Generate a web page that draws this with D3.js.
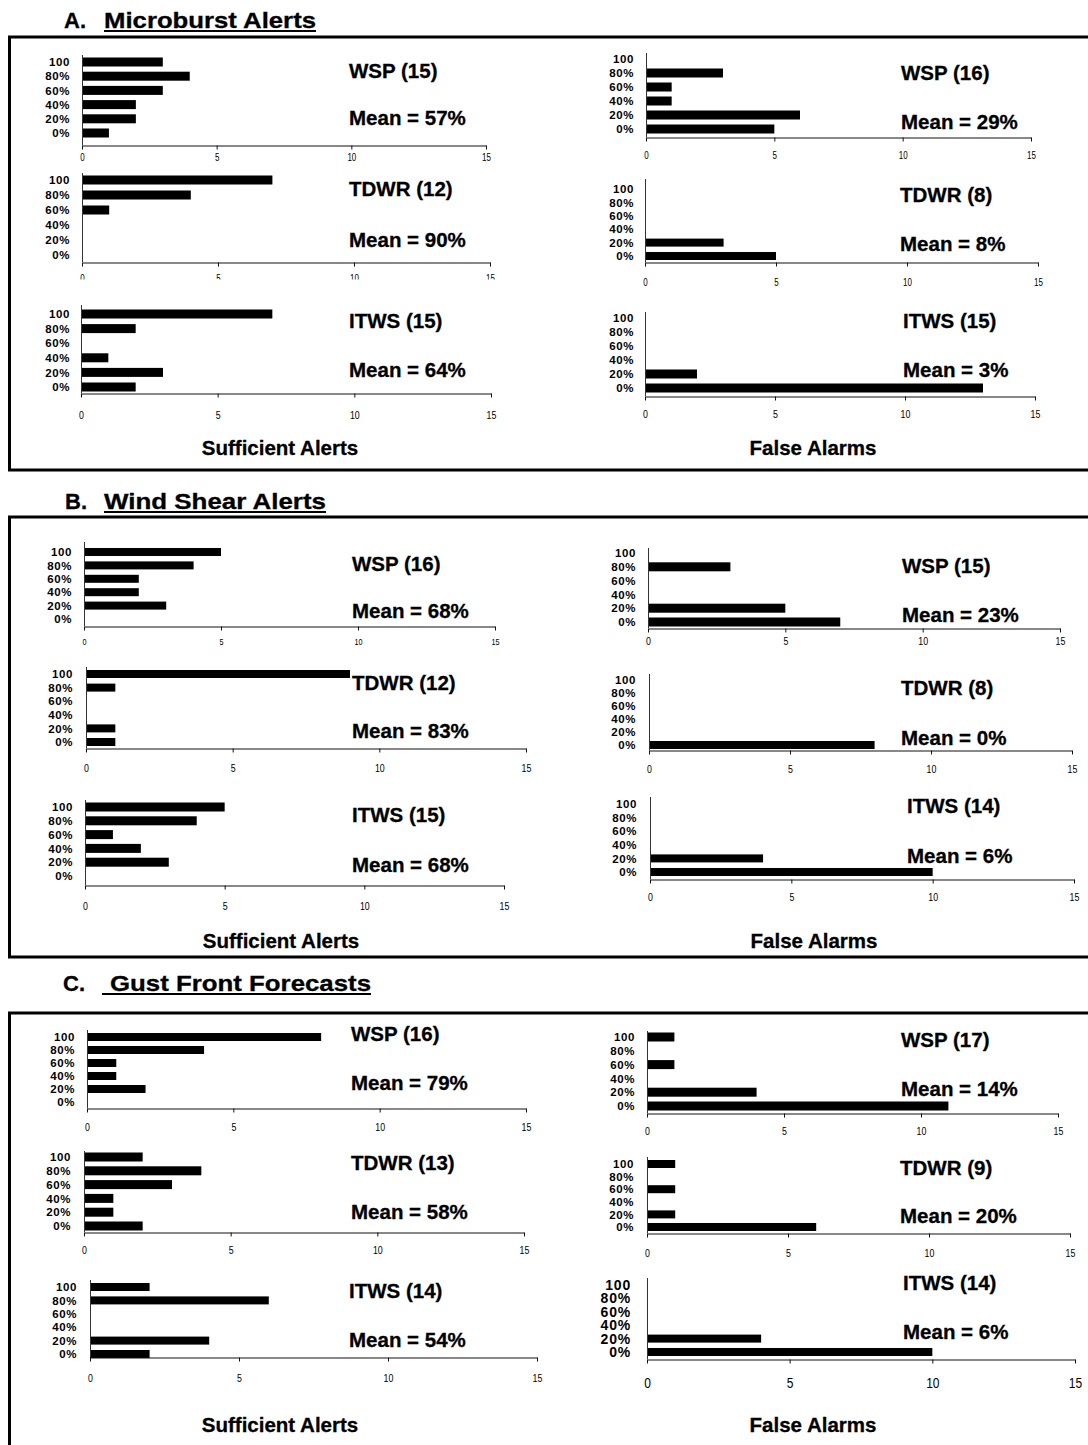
<!DOCTYPE html>
<html>
<head>
<meta charset="utf-8">
<script src="https://cdn.jsdelivr.net/npm/d3@7"></script>
<style>
  html, body { margin: 0; padding: 0; background: #fff; }
  svg { display: block; font-family: "Liberation Sans", Arial, sans-serif; }
</style>
</head>
<body>
<script>
// ---------------- DATA ----------------
const categories = ["100", "80%", "60%", "40%", "20%", "0%"];
const xTickValues = [0, 5, 10, 15];

const sectionLetters = ["A.", "B.", "C."];
const sectionNames = ["Microburst Alerts", "Wind Shear Alerts", "Gust Front Forecasts"];
const columnTitles = ["Sufficient Alerts", "False Alarms"];

// counts per category (100, 80%, 60%, 40%, 20%, 0%)
const mbSuffWSP   = [3, 4, 3, 2, 2, 1];
const mbSuffTDWR  = [7, 4, 1, 0, 0, 0];
const mbSuffITWS  = [7, 2, 0, 1, 3, 2];
const mbFalseWSP  = [0, 3, 1, 1, 6, 5];
const mbFalseTDWR = [0, 0, 0, 0, 3, 5];
const mbFalseITWS = [0, 0, 0, 0, 2, 13];

const wsSuffWSP   = [5, 4, 2, 2, 3, 0];
const wsSuffTDWR  = [9, 1, 0, 0, 1, 1];
const wsSuffITWS  = [5, 4, 1, 2, 3, 0];
const wsFalseWSP  = [0, 3, 0, 0, 5, 7];
const wsFalseTDWR = [0, 0, 0, 0, 0, 8];
const wsFalseITWS = [0, 0, 0, 0, 4, 10];

const gfSuffWSP   = [8, 4, 1, 1, 2, 0];
const gfSuffTDWR  = [2, 4, 3, 1, 1, 2];
const gfSuffITWS  = [2, 6, 0, 0, 4, 2];
const gfFalseWSP  = [1, 0, 1, 0, 4, 11];
const gfFalseTDWR = [1, 0, 1, 0, 1, 6];
const gfFalseITWS = [0, 0, 0, 0, 4, 10];

const panelSeries = [
  mbSuffWSP, mbSuffTDWR, mbSuffITWS, mbFalseWSP, mbFalseTDWR, mbFalseITWS,
  wsSuffWSP, wsSuffTDWR, wsSuffITWS, wsFalseWSP, wsFalseTDWR, wsFalseITWS,
  gfSuffWSP, gfSuffTDWR, gfSuffITWS, gfFalseWSP, gfFalseTDWR, gfFalseITWS
];
const panelNames = [
  "WSP (15)", "TDWR (12)", "ITWS (15)", "WSP (16)", "TDWR (8)", "ITWS (15)",
  "WSP (16)", "TDWR (12)", "ITWS (15)", "WSP (15)", "TDWR (8)", "ITWS (14)",
  "WSP (16)", "TDWR (13)", "ITWS (14)", "WSP (17)", "TDWR (9)", "ITWS (14)"
];
const panelMeans = [
  "Mean = 57%", "Mean = 90%", "Mean = 64%", "Mean = 29%", "Mean = 8%", "Mean = 3%",
  "Mean = 68%", "Mean = 83%", "Mean = 68%", "Mean = 23%", "Mean = 0%", "Mean = 6%",
  "Mean = 79%", "Mean = 58%", "Mean = 54%", "Mean = 14%", "Mean = 20%", "Mean = 6%"
];

// ---------------- LAYOUT ----------------
const layout = [
  {ax:82, x15:486, base:145, top:55, c100:62, c0:133, labR:70, nameX:349, nameY:78, meanY:125, tickY:157, tf:10},
  {ax:82, x15:490, base:262, top:173, c100:180, c0:255, labR:70, nameX:349, nameY:196, meanY:247, tickY:278, tf:10, clip:279},
  {ax:81, x15:491, base:393, top:305, c100:314, c0:387, labR:70, nameX:349, nameY:328, meanY:377, tickY:415, tf:11},
  {ax:646, x15:1031, base:137, top:53, c100:59, c0:129, labR:634, nameX:901, nameY:80, meanY:129, tickY:155, tf:10},
  {ax:645, x15:1038, base:262, top:179, c100:189, c0:256, labR:634, nameX:900, nameY:202, meanY:251, tickY:282, tf:10},
  {ax:645, x15:1035, base:396, top:312, c100:318, c0:388, labR:634, nameX:903, nameY:328, meanY:377, tickY:414, tf:11},

  {ax:84, x15:495, base:626, top:542, c100:552, c0:619, labR:72, nameX:352, nameY:571, meanY:618, tickY:641, tf:9},
  {ax:86, x15:526, base:748, top:667, c100:674, c0:742, labR:73, nameX:352, nameY:690, meanY:738, tickY:768, tf:11},
  {ax:85, x15:504, base:885, top:800, c100:807, c0:876, labR:73, nameX:352, nameY:822, meanY:872, tickY:906, tf:11},
  {ax:648, x15:1060, base:628, top:548, c100:553, c0:622, labR:636, nameX:902, nameY:573, meanY:622, tickY:641, tf:11},
  {ax:649, x15:1072, base:750, top:674, c100:680, c0:745, labR:636, nameX:901, nameY:695, meanY:745, tickY:769, tf:11},
  {ax:650, x15:1074, base:879, top:797, c100:804, c0:872, labR:637, nameX:907, nameY:813, meanY:863, tickY:897, tf:11},

  {ax:87, x15:526, base:1108, top:1030, c100:1037, c0:1102, labR:75, nameX:351, nameY:1041, meanY:1090, tickY:1127, tf:11},
  {ax:84, x15:524, base:1232, top:1151, c100:1157, c0:1226, labR:71, nameX:351, nameY:1170, meanY:1219, tickY:1250, tf:11},
  {ax:90, x15:537, base:1357, top:1280, c100:1287, c0:1354, labR:77, nameX:349, nameY:1298, meanY:1347, tickY:1378, tf:11},
  {ax:647, x15:1058, base:1113, top:1031, c100:1037, c0:1106, labR:635, nameX:901, nameY:1047, meanY:1096, tickY:1131, tf:11},
  {ax:647, x15:1070, base:1233, top:1157, c100:1164, c0:1227, labR:634, nameX:900, nameY:1175, meanY:1223, tickY:1253, tf:11},
  {ax:647, x15:1075, base:1359, top:1278, c100:1285, c0:1352, labR:631, nameX:903, nameY:1290, meanY:1339, tickY:1382, tf:15, big:true}
];

const titleLayout = [
  {lx:64, nx:104, w:212, y:28, ux0:104, ux1:316},
  {lx:65, nx:104, w:222, y:509, ux0:104, ux1:326},
  {lx:63, nx:110, w:261, y:991, ux0:102, ux1:371}
];
const colTitleLayout = [
  {y:455, cx:[280, 813]},
  {y:948, cx:[281, 814]},
  {y:1432, cx:[280, 813]}
];
const boxLayout = [
  {top:37, bottom:470},
  {top:517, bottom:957},
  {top:1013, bottom:null}
];

// ---------------- DRAW ----------------
const svg = d3.select("body").append("svg")
  .attr("width", 1088).attr("height", 1445);
const defs = svg.append("defs");

function boldText(sel, size) {
  return sel.attr("font-size", size).attr("font-weight", "bold")
    .attr("fill", "#000").attr("stroke", "#000").attr("stroke-width", 0.3);
}

// Boxes
boxLayout.forEach(b => {
  const bottom = b.bottom === null ? 1446 : b.bottom;
  let p = `M1090,${b.top} L9.5,${b.top} L9.5,${bottom}`;
  if (b.bottom !== null) p += ` L1090,${bottom}`;
  svg.append("path").attr("d", p).attr("fill", "none")
    .attr("stroke", "#000").attr("stroke-width", 3);
});

// Section titles
titleLayout.forEach((t, i) => {
  boldText(svg.append("text").attr("x", t.lx).attr("y", t.y), 22)
    .text(sectionLetters[i]);
  boldText(svg.append("text").attr("x", t.nx).attr("y", t.y), 22)
    .attr("textLength", t.w).attr("lengthAdjust", "spacingAndGlyphs")
    .text(sectionNames[i]);
  svg.append("line").attr("x1", t.ux0).attr("x2", t.ux1)
    .attr("y1", t.y + 3).attr("y2", t.y + 3)
    .attr("stroke", "#000").attr("stroke-width", 2);
});

// Column titles
colTitleLayout.forEach(c => {
  columnTitles.forEach((ct, j) => {
    boldText(svg.append("text").attr("x", c.cx[j]).attr("y", c.y)
      .attr("text-anchor", "middle"), 20.5)
      .text(ct);
  });
});

// Panels
layout.forEach((L, i) => {
  const values = panelSeries[i];
  const g = svg.append("g");
  const x = d3.scaleLinear().domain([0, 15]).range([L.ax, L.x15]);
  const y = d3.scalePoint().domain(categories).range([L.c100, L.c0]);
  const step = (L.c0 - L.c100) / (categories.length - 1);
  const barH = Math.round(step * 0.62);

  // bars
  g.selectAll("rect.bar").data(categories.map((c, k) => ({c, v: values[k]})))
    .enter().append("rect").attr("class", "bar")
    .attr("x", x(0))
    .attr("y", d => y(d.c) - barH / 2)
    .attr("width", d => x(d.v) - x(0))
    .attr("height", barH)
    .attr("fill", "#000");

  // y axis line
  g.append("line").attr("x1", L.ax + 0.5).attr("x2", L.ax + 0.5)
    .attr("y1", L.top).attr("y2", L.base)
    .attr("stroke", "#333").attr("stroke-width", 1);

  // category labels
  g.selectAll("text.cat").data(categories).enter().append("text")
    .attr("class", "cat")
    .attr("x", L.labR).attr("y", d => y(d))
    .attr("dy", "0.36em")
    .attr("text-anchor", "end")
    .attr("font-size", L.big ? 14 : 11.5)
    .attr("font-weight", "bold")
    .attr("letter-spacing", L.big ? 0.8 : 0.6)
    .attr("fill", "#000")
    .text(d => d);

  // x axis
  const axG = g.append("g").attr("transform", `translate(0,${L.base + 0.5})`);
  if (L.clip) {
    const id = "clip" + i;
    defs.append("clipPath").attr("id", id).append("rect")
      .attr("x", 0).attr("y", -L.base - 10).attr("width", 1088).attr("height", L.clip + 10);
    axG.attr("clip-path", `url(#${id})`);
  }
  axG.call(d3.axisBottom(x).tickValues(xTickValues).tickSize(4).tickSizeOuter(0).tickFormat(d3.format("d")));
  axG.select(".domain").attr("stroke", "#111");
  axG.selectAll(".tick line").attr("stroke", "#111");
  axG.selectAll(".tick text")
    .attr("y", L.tickY - L.base)
    .attr("dy", "0.36em")
    .attr("font-size", L.tf)
    .attr("font-family", "'Liberation Sans', Arial, sans-serif")
    .attr("fill", "#000")
    .attr("transform", "scale(0.8,1)");

  // annotations
  boldText(g.append("text").attr("x", L.nameX).attr("y", L.nameY), 20.5)
    .text(panelNames[i]);
  boldText(g.append("text").attr("x", L.nameX).attr("y", L.meanY), 20.5)
    .text(panelMeans[i]);
});
</script>
</body>
</html>
